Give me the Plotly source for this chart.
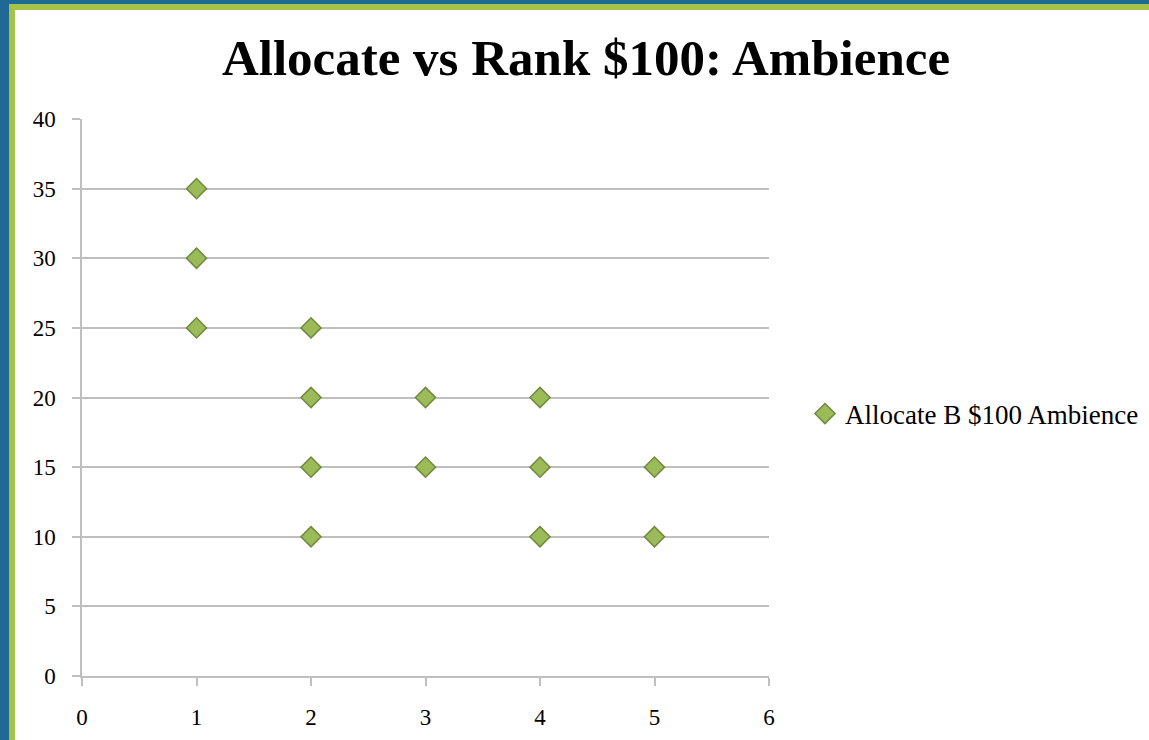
import plotly.graph_objects as go

# Rank given (x) vs dollars allocated out of $100 (y) for ambience
rank = [1, 1, 1, 2, 2, 2, 2, 3, 3, 4, 4, 4, 5, 5]
allocated = [35, 30, 25, 25, 20, 15, 10, 20, 15, 20, 15, 10, 15, 10]

series_name = "Allocate B $100 Ambience"
title_text = "Allocate vs Rank $100: Ambience"

x_ticks = [0, 1, 2, 3, 4, 5, 6]
y_ticks = [0, 5, 10, 15, 20, 25, 30, 35, 40]

FONT = "Liberation Serif"
GRID = "#BFBFBF"

# plot-area geometry in pixels
W, H = 1149, 740
L, R, T, B = 82, 769, 119, 676
pw, ph = R - L, B - T


def px(x):
    return (x - L) / pw


def py(y):
    return (B - y) / ph


fig = go.Figure()
fig.add_trace(go.Scatter(
    x=rank, y=allocated, mode="markers", name=series_name,
    marker=dict(symbol="diamond", size=15.5, color="#9BBB59",
                line=dict(color="#71893F", width=1.5)),
))

# slide frame: blue backdrop, green band, white card
fig.add_shape(type="rect", xref="paper", yref="paper", layer="below",
              x0=px(9), x1=px(W + 20), y0=py(4), y1=py(H + 20),
              fillcolor="#A5C249", line=dict(width=0))
fig.add_shape(type="rect", xref="paper", yref="paper", layer="below",
              x0=px(15), x1=px(W + 20), y0=py(10), y1=py(H + 20),
              fillcolor="white", line=dict(width=0))

fig.update_layout(
    width=W, height=H,
    margin=dict(l=L, r=W - R, t=T, b=H - B, autoexpand=False),
    paper_bgcolor="#1F6A94", plot_bgcolor="white",
    font=dict(family=FONT, color="black", size=23),
    title=dict(text="<b>" + title_text + "</b>", x=0.51, xanchor="center",
               y=1 - 57 / H, yanchor="middle",
               font=dict(family=FONT, size=51, color="black")),
    showlegend=True,
    legend=dict(x=px(805), y=py(414), xanchor="left", yanchor="middle",
                bgcolor="rgba(0,0,0,0)", font=dict(size=27, family=FONT),
                itemwidth=30),
    xaxis=dict(range=[0, 6], tickvals=x_ticks, showgrid=False, zeroline=False,
               showline=True, linecolor=GRID, linewidth=1.5,
               ticks="outside", ticklen=8, tickcolor=GRID, tickwidth=1.5,
               ticklabelstandoff=12, tickfont=dict(size=23)),
    yaxis=dict(range=[0, 40], tickvals=y_ticks, showgrid=True, gridcolor=GRID,
               gridwidth=1.5, zeroline=False,
               showline=True, linecolor=GRID, linewidth=1.5,
               ticks="outside", ticklen=8, tickcolor=GRID, tickwidth=1.5,
               ticklabelstandoff=12, tickfont=dict(size=23)),
)

fig.write_html("out.html")
